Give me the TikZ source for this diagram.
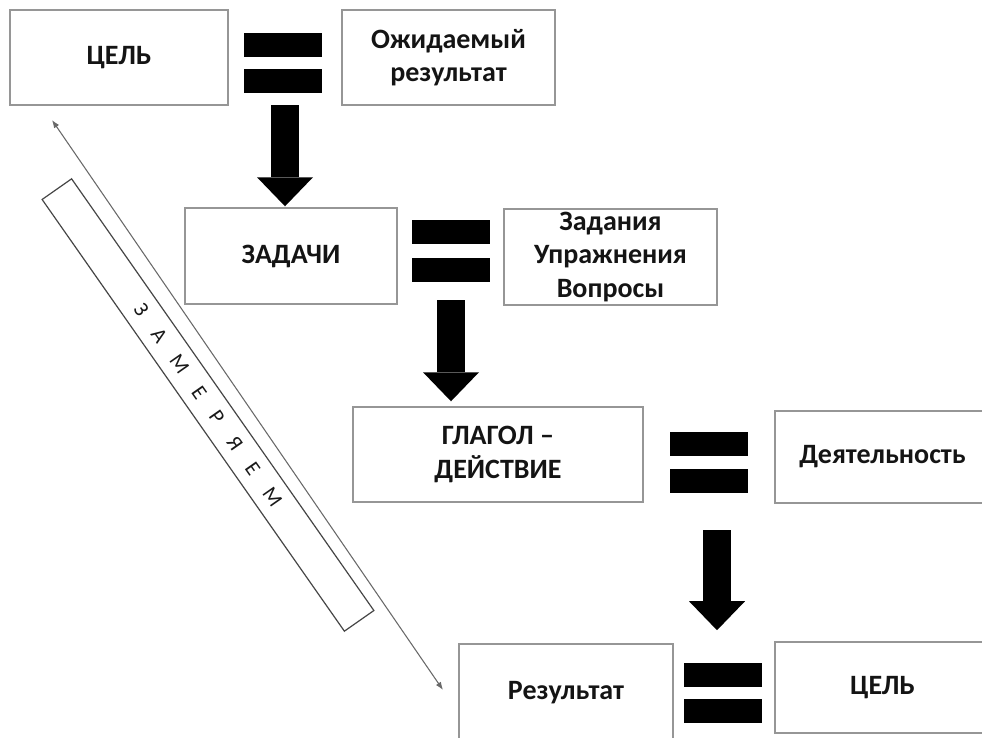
\documentclass[tikz,border=0pt]{standalone}
\usepackage{fontspec}
\setmainfont{Carlito}
\usepackage{tikz}
\usetikzlibrary{arrows.meta,calc}

\newcommand{\lsp}{\hspace{15pt}}

\tikzset{
  box/.style={draw={rgb, 255:red, 150; green, 150; blue, 150}, line width=1.1pt, inner sep=0.75pt, align=center,
    text={rgb, 255:red, 20; green, 20; blue, 20}, font=\fontsize{21}{25}\selectfont\bfseries},
  bar/.style={fill=black, inner sep=0pt, minimum width=58.5pt, minimum height=18pt},
  blockarrow/.style={line width=21pt, -{Triangle[width=42pt,length=21.75pt,line width=0pt]}},
  measline/.style={draw={rgb, 255:red, 105; green, 105; blue, 105}, line width=0.8pt,
    {Latex[length=6pt,width=4.5pt]}-{Latex[length=6pt,width=4.5pt]}},
  measbox/.style={draw={rgb, 255:red, 70; green, 70; blue, 70}, line width=0.9pt, minimum width=395.25pt,
    minimum height=27pt, inner sep=0pt, text={rgb, 255:red, 25; green, 25; blue, 25}, font=\fontsize{16}{18}\selectfont}
}

\begin{document}
\begin{tikzpicture}[x=0.75pt,y=0.75pt,yscale=-1,xscale=1]
\useasboundingbox (0,0) rectangle (982,738);
\clip (0,0) rectangle (982,738);

%Shape: Rectangle
\node[box, minimum width=163.5pt, minimum height=71.25pt] (goal) at (119,57.5) {ЦЕЛЬ};
%Shape: Rectangle
\node[box, minimum width=159.75pt, minimum height=71.25pt] (expected) at (448.5,57.5) {Ожидаемый\\результат};
%Shape: Rectangle
\node[box, minimum width=159pt, minimum height=72pt] (tasks) at (291,256) {ЗАДАЧИ};
%Shape: Rectangle
\node[box, minimum width=159.75pt, minimum height=72pt] (exercises) at (610.5,257) {Задания\\Упражнения\\Вопросы};
%Shape: Rectangle
\node[box, minimum width=217.5pt, minimum height=71.25pt] (verb) at (498,454.5) {ГЛАГОЛ –\\ДЕЙСТВИЕ};
%Shape: Rectangle
\node[box, minimum width=161.25pt, minimum height=69pt] (activity) at (882.5,457) {Деятельность};
%Shape: Rectangle
\node[box, minimum width=160.5pt, minimum height=72.75pt] (result) at (566,692.5) {Результат};
%Shape: Rectangle
\node[box, minimum width=161.25pt, minimum height=68.25pt] (goalb) at (882.5,687.5) {ЦЕЛЬ};

%Equals bars
\node[bar] (eq1a) at (283,45) {};
\node[bar] (eq1b) at (283,81) {};
\node[bar] (eq2a) at (450.5,232.5) {};
\node[bar] (eq2b) at (450.5,269.5) {};
\node[bar] (eq3a) at (709,444) {};
\node[bar] (eq3b) at (709,480.5) {};
\node[bar] (eq4a) at (723,674.5) {};
\node[bar] (eq4b) at (723,710.5) {};

%Block Arrows
\draw[blockarrow] ($(eq1b.south)+(2,12)$) -- ($(tasks.north -| eq1b.south)+(2,-1)$);
\draw[blockarrow] ($(eq2b.south)+(0.5,18.5)$) -- ($(verb.north -| eq2b.south)+(0.5,-5)$);
\draw[blockarrow] ($(eq3b.south)+(8,37.5)$) -- ($(eq4a.north -| eq3b.south)+(8,-32)$);

%Straight Lines
\coordinate (measTop) at (52,120);
\coordinate (measBot) at (443,690);
\draw[measline] (measTop) -- (measBot);

% Text Node
\node[measbox, rotate=-55] (measure) at (208,405) {З\lsp А\lsp М\lsp Е\lsp Р\lsp Я\lsp Е\lsp М};

\end{tikzpicture}
\end{document}
